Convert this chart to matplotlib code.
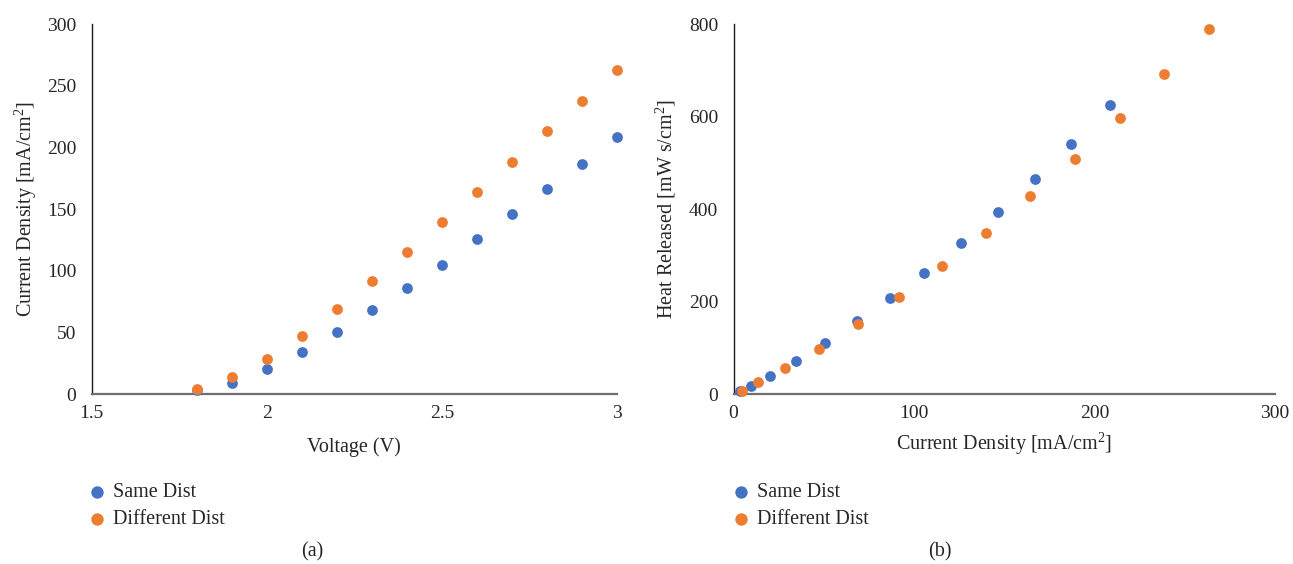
import matplotlib
matplotlib.use("Agg")
import matplotlib.pyplot as plt

plt.rcParams['font.family'] = ['Liberation Serif', 'DejaVu Serif']
plt.rcParams['mathtext.fontset'] = 'custom'
plt.rcParams['mathtext.rm'] = 'Liberation Serif'
plt.rcParams['mathtext.it'] = 'Liberation Serif:italic'

# (a) current density vs voltage
voltage = [1.8, 1.9, 2.0, 2.1, 2.2, 2.3, 2.4, 2.5, 2.6, 2.7, 2.8, 2.9, 3.0]
cd_same = [3.5, 8.7, 20.0, 34.3, 50.5, 67.9, 86.2, 104.8, 125.4, 146.2, 166.5, 186.5, 208.1]
cd_diff = [4.1, 13.6, 28.1, 47.0, 68.7, 91.6, 115.1, 139.5, 163.8, 188.4, 213.5, 237.8, 263.0]

# (b) heat released vs current density
heat_x_same = [3.5, 9.5, 20.2, 34.6, 50.9, 68.4, 86.7, 105.4, 126.0, 146.7, 166.9, 187.1, 208.4]
heat_same = [6.3, 16.7, 38.4, 71.5, 110.6, 156.8, 206.6, 261.7, 325.9, 393.9, 465.5, 541.4, 624.4]
heat_x_diff = [4.5, 13.8, 28.5, 47.6, 69.0, 91.9, 115.5, 139.9, 164.4, 189.0, 214.0, 238.7, 263.4]
heat_diff = [6.5, 25.4, 55.7, 97.6, 150.3, 209.6, 276.0, 348.4, 427.1, 508.0, 596.9, 691.0, 789.2]

series_names = ['Same Dist', 'Different Dist']
blue = '#4472C4'
orange = '#ED7D31'
txt = '#262626'

fig = plt.figure(figsize=(12.93, 5.64), dpi=100)
ax1 = fig.add_axes([0.0709, 0.3014, 0.4063, 0.656])
ax2 = fig.add_axes([0.5673, 0.3014, 0.4188, 0.656])

ms = 60
kw = dict(s=ms, linewidths=0, clip_on=False)
ax1.scatter(voltage, cd_same, color=blue, label=series_names[0], zorder=3, **kw)
ax1.scatter(voltage, cd_diff, color=orange, label=series_names[1], zorder=4, **kw)
ax2.scatter(heat_x_same, heat_same, color=blue, label=series_names[0], zorder=3, **kw)
ax2.scatter(heat_x_diff, heat_diff, color=orange, label=series_names[1], zorder=4, **kw)

ax1.set_xlim(1.5, 3.0)
ax1.set_ylim(0, 300)
ax1.set_xticks([1.5, 2.0, 2.5, 3.0])
ax1.set_xticklabels(['1.5', '2', '2.5', '3'])
ax1.set_yticks(range(0, 301, 50))

ax2.set_xlim(0, 300)
ax2.set_ylim(0, 800)
ax2.set_xticks(range(0, 301, 100))
ax2.set_yticks(range(0, 801, 200))

fs = 14.5
for ax in (ax1, ax2):
    for s in ('top', 'right'):
        ax.spines[s].set_visible(False)
    ax.spines['left'].set_color('#1a1a1a')
    ax.spines['left'].set_linewidth(1.0)
    ax.spines['bottom'].set_color('#6e6e6e')
    ax.spines['bottom'].set_linewidth(1.6)
    ax.tick_params(length=0, labelsize=14, colors=txt)
    ax.tick_params(axis='y', pad=11)
    ax.tick_params(axis='x', pad=8)

ax1.set_xlabel('Voltage (V)', fontsize=fs, color=txt, labelpad=11)
ax1.set_ylabel('Current Density [mA/cm$^2$]', fontsize=fs, color=txt, labelpad=6)
ax2.set_xlabel('Current Density [mA/cm$^2$]', fontsize=fs, color=txt, labelpad=6)
ax2.set_ylabel('Heat Released [mW s/cm$^2$]', fontsize=fs, color=txt, labelpad=8)

for ax, x0 in ((ax1, 0.058), (ax2, 0.556)):
    ax.legend(loc='upper left', bbox_to_anchor=(x0, 0.162), bbox_transform=fig.transFigure,
              frameon=False, fontsize=fs, handletextpad=0.2, handlelength=1.2,
              labelspacing=0.4, markerscale=1.15, borderpad=0, labelcolor=txt)

fig.text(0.2413, 0.004, '(a)', fontsize=fs, color=txt, ha='center', va='bottom')
fig.text(0.727, 0.004, '(b)', fontsize=fs, color=txt, ha='center', va='bottom')

fig.savefig('out.png', dpi=100)
